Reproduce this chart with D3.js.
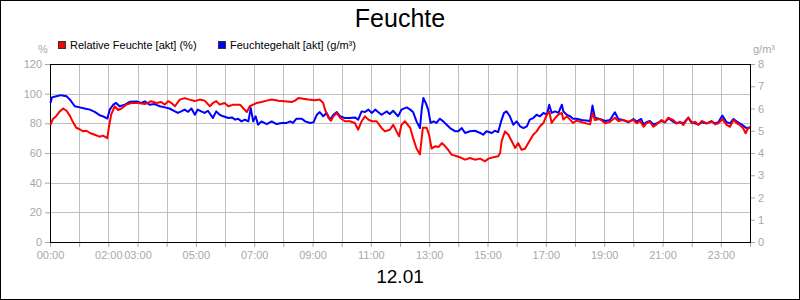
<!DOCTYPE html>
<html>
<head>
<meta charset="utf-8">
<script src="https://cdn.jsdelivr.net/npm/d3@7"></script>
<style>
  body { margin: 0; background: #fff; }
  svg text { font-family: "Liberation Sans", Arial, sans-serif; }
</style>
</head>
<body>
<svg id="chart"></svg>
<script>
// Chart texts
const title = "Feuchte"
const dateLabel = "12.01"
const seriesNames = ["Relative Feuchte [akt] (%)", "Feuchtegehalt [akt] (g/m³)"]
const seriesColors = ["#ff0000", "#0000ff"]
const leftUnit = "%"
const rightUnit = "g/m³"

// Axes
const hourTicks = d3.range(0, 25)            // hourly grid
const hourLabels = ["00:00", "02:00", "03:00", "05:00", "07:00", "09:00", "11:00", "13:00", "15:00", "17:00", "19:00", "21:00", "23:00"]
const leftTicks = [0, 20, 40, 60, 80, 100, 120]
const rightTicks = [0, 1, 2, 3, 4, 5, 6, 7, 8]

// Relative Feuchte: minutes after midnight / percent
const rhMinutes = [1, 6, 13, 20, 27, 34, 41, 47, 54, 61, 68, 75, 82, 92, 102, 109, 118, 121, 126, 133, 140, 147, 157, 167, 181, 195, 208, 219, 229, 236, 243, 250, 257, 267, 277, 287, 298, 308, 318, 329, 335, 342, 349, 359, 367, 377, 391, 398, 405, 411, 418, 425, 435, 446, 456, 470, 483, 497, 504, 511, 521, 531, 545, 555, 562, 566, 573, 578, 583, 590, 597, 607, 617, 627, 634, 641, 648, 655, 662, 672, 682, 689, 699, 706, 713, 718, 723, 730, 741, 747, 754, 761, 767, 775, 780, 785, 792, 799, 806, 813, 819, 826, 837, 847, 854, 864, 874, 885, 895, 902, 912, 922, 926, 929, 936, 943, 950, 957, 963, 970, 977, 984, 994, 1001, 1008, 1015, 1022, 1027, 1032, 1039, 1046, 1053, 1056, 1063, 1070, 1076, 1083, 1094, 1111, 1116, 1121, 1131, 1142, 1152, 1162, 1169, 1179, 1190, 1200, 1207, 1214, 1221, 1227, 1234, 1241, 1248, 1258, 1265, 1272, 1282, 1289, 1296, 1303, 1313, 1320, 1327, 1334, 1341, 1351, 1361, 1368, 1375, 1383, 1392, 1399, 1406, 1413, 1419, 1426, 1431, 1436, 1440]
const rhValues = [79, 83, 85, 88, 90, 88.5, 85, 81, 77, 76, 74.6, 75, 73.5, 72.3, 71, 71.7, 70, 77, 86, 91.5, 89, 90, 92.6, 93.7, 93.7, 93, 94.9, 93.7, 94.4, 92.6, 94.9, 93.7, 91.5, 96, 97, 96, 95, 96, 95.3, 91.5, 93.7, 95, 92.6, 93.7, 91.5, 92.6, 92.6, 90, 87.6, 91.5, 92.6, 93.7, 94.4, 95.3, 96, 95.3, 94.9, 94.4, 95.3, 97, 96.6, 96, 95.5, 96, 93.7, 89, 83.6, 81.8, 84.7, 87, 83.6, 81.4, 81.4, 80.2, 75.7, 81.4, 84.7, 82.5, 81.4, 81.4, 76.9, 74.6, 75.7, 79, 74.6, 71.3, 79, 81.4, 77, 70, 63, 59, 77, 77, 72, 63, 64.5, 64, 66.7, 64.5, 62.2, 58.9, 57.8, 56.6, 55.5, 56.6, 55.5, 56.2, 54.4, 56.2, 57.1, 57.8, 60, 67.9, 74.6, 72.3, 67.9, 63.4, 66.7, 62.2, 62.9, 66.7, 72.3, 74.6, 78, 80.2, 85.8, 88, 80.2, 83.6, 85.8, 87, 82.5, 84.7, 82.5, 80.2, 81.8, 80.7, 79.3, 86.8, 82.2, 82.9, 80, 81.1, 83.8, 81.6, 82.2, 81.1, 82.2, 80, 81.6, 77.7, 80, 81.1, 77.7, 79.3, 82.2, 80.7, 83.8, 82.2, 80, 81.1, 78.9, 83.8, 80, 81.1, 78.9, 81.6, 80, 81.6, 79.3, 80, 82.9, 78.9, 77.7, 82.2, 80, 78.9, 76.7, 73.3, 76.7, 77]

// Feuchtegehalt: minutes after midnight / g per m³
const ahMinutes = [1, 4, 13, 23, 34, 41, 51, 61, 71, 82, 92, 102, 109, 118, 123, 130, 136, 143, 154, 164, 178, 188, 195, 205, 215, 226, 236, 246, 257, 263, 270, 277, 284, 291, 298, 304, 311, 318, 325, 335, 342, 349, 356, 367, 374, 381, 387, 394, 401, 408, 413, 418, 423, 428, 435, 446, 456, 466, 477, 487, 494, 500, 507, 518, 525, 535, 542, 549, 555, 562, 569, 576, 583, 590, 597, 607, 617, 627, 634, 641, 648, 655, 662, 669, 675, 682, 693, 699, 706, 716, 723, 734, 741, 747, 754, 761, 765, 768, 773, 778, 783, 789, 795, 802, 809, 816, 823, 833, 840, 847, 854, 864, 874, 885, 891, 898, 909, 915, 922, 928, 934, 939, 946, 953, 960, 967, 974, 981, 987, 994, 1001, 1008, 1015, 1022, 1027, 1032, 1039, 1046, 1053, 1056, 1063, 1070, 1076, 1083, 1094, 1111, 1116, 1121, 1131, 1142, 1152, 1162, 1169, 1179, 1190, 1200, 1207, 1216, 1221, 1227, 1234, 1241, 1248, 1258, 1265, 1272, 1282, 1289, 1296, 1303, 1313, 1320, 1327, 1334, 1341, 1351, 1361, 1368, 1375, 1383, 1392, 1399, 1406, 1413, 1419, 1426, 1433, 1440]
const ahValues = [6.25, 6.5, 6.55, 6.6, 6.55, 6.4, 6.1, 6.05, 6.0, 5.95, 5.85, 5.7, 5.65, 5.55, 5.95, 6.17, 6.25, 6.1, 6.17, 6.3, 6.32, 6.25, 6.32, 6.17, 6.2, 6.1, 6.05, 6.0, 5.87, 5.8, 5.87, 5.95, 5.85, 6.0, 5.72, 5.95, 5.87, 5.8, 5.9, 5.57, 5.87, 5.72, 5.65, 5.57, 5.6, 5.5, 5.54, 5.42, 5.5, 5.42, 6.02, 5.42, 5.65, 5.27, 5.42, 5.3, 5.42, 5.3, 5.35, 5.35, 5.42, 5.35, 5.54, 5.54, 5.42, 5.35, 5.38, 5.72, 5.84, 5.65, 5.8, 5.5, 5.72, 5.84, 5.65, 5.57, 5.57, 5.6, 5.5, 5.87, 5.84, 5.95, 5.8, 5.95, 5.84, 5.72, 5.87, 5.75, 5.9, 5.65, 5.95, 6.05, 5.95, 5.84, 5.42, 5.12, 6.02, 6.47, 6.25, 5.95, 5.35, 5.42, 5.35, 5.54, 5.42, 5.27, 5.12, 4.98, 4.98, 5.12, 4.9, 4.98, 5.0, 4.9, 4.82, 4.98, 4.9, 5.0, 4.94, 5.42, 5.8, 5.87, 5.65, 5.27, 5.42, 5.2, 5.12, 5.2, 5.5, 5.57, 5.72, 5.65, 5.8, 5.72, 6.17, 5.8, 5.87, 5.8, 6.17, 5.87, 5.72, 5.65, 5.54, 5.54, 5.48, 5.44, 6.13, 5.59, 5.53, 5.44, 5.48, 5.83, 5.53, 5.48, 5.38, 5.53, 5.41, 5.53, 5.29, 5.38, 5.44, 5.29, 5.33, 5.44, 5.38, 5.56, 5.41, 5.33, 5.38, 5.33, 5.59, 5.38, 5.33, 5.29, 5.38, 5.33, 5.41, 5.33, 5.38, 5.68, 5.38, 5.33, 5.53, 5.41, 5.33, 5.23, 5.11, 5.16]

const W = 800, H = 300
const margin = {left: 50, top: 64, right: 50, bottom: 58}
const w = W - margin.left - margin.right
const h = H - margin.top - margin.bottom
const grey = "#a8a8a8"
const gridGrey = "#c0c0c0"

const svg = d3.select("#chart").attr("width", W).attr("height", H)

// outer frame
svg.append("rect").attr("x", 0.5).attr("y", 0.5).attr("width", W - 1).attr("height", H - 1)
  .attr("fill", "#fff").attr("stroke", "#000")

const xScale = d3.scaleLinear().domain([0, 24 * 60]).range([0, w])
const yLeft = d3.scaleLinear().domain([0, 120]).range([h, 0])
const yRight = d3.scaleLinear().domain([0, 8]).range([h, 0])
const snap = v => Math.round(v) + 0.5

const g = svg.append("g").attr("transform", `translate(${margin.left},${margin.top})`)

// grid
g.selectAll(".vgrid").data(hourTicks).join("line").attr("class", "vgrid")
  .attr("x1", d => snap(xScale(d * 60))).attr("x2", d => snap(xScale(d * 60)))
  .attr("y1", 0).attr("y2", h).attr("stroke", gridGrey)
g.selectAll(".hgrid").data(leftTicks).join("line").attr("class", "hgrid")
  .attr("x1", 0).attr("x2", w)
  .attr("y1", d => snap(yLeft(d))).attr("y2", d => snap(yLeft(d))).attr("stroke", gridGrey)

// axes
const styleAxis = sel => {
  sel.select(".domain").remove()
  sel.selectAll(".tick line").attr("stroke", grey)
  sel.selectAll(".tick text").attr("fill", grey).attr("font-size", 11)
    .attr("font-family", '"Liberation Sans", Arial, sans-serif')
}

g.append("g").attr("transform", `translate(0,${h})`)
  .call(d3.axisBottom(xScale).tickValues(hourTicks.map(d => d * 60)).tickSize(5).tickPadding(4)
    .tickFormat(d => {
      const s = d3.format("02")(Math.floor(d / 60)) + ":00"
      return hourLabels.includes(s) && d < 1440 ? s : ""
    }))
  .call(styleAxis)

g.append("g")
  .call(d3.axisLeft(yLeft).tickValues(leftTicks).tickSize(5).tickPadding(3))
  .call(styleAxis)

g.append("g").attr("transform", `translate(${w},0)`)
  .call(d3.axisRight(yRight).tickValues(rightTicks).tickSize(5).tickPadding(3))
  .call(styleAxis)

// plot frame
g.append("rect").attr("x", 0.5).attr("y", 0.5).attr("width", w).attr("height", h)
  .attr("fill", "none").attr("stroke", "#000")

// lines
const rhData = rhMinutes.map((m, i) => ({m, v: rhValues[i]}))
const ahData = ahMinutes.map((m, i) => ({m, v: ahValues[i]}))

g.append("path").datum(ahData)
  .attr("d", d3.line().x(d => xScale(d.m)).y(d => yRight(d.v)))
  .attr("fill", "none").attr("stroke", seriesColors[1]).attr("stroke-width", 2)
  .attr("stroke-linejoin", "round")
g.append("path").datum(rhData)
  .attr("d", d3.line().x(d => xScale(d.m)).y(d => yLeft(d.v)))
  .attr("fill", "none").attr("stroke", seriesColors[0]).attr("stroke-width", 2)
  .attr("stroke-linejoin", "round")

// titles
svg.append("text").attr("x", W / 2).attr("y", 27).attr("text-anchor", "middle")
  .attr("font-size", 25).attr("fill", "#000").text(title)
svg.append("text").attr("x", W / 2).attr("y", 283).attr("text-anchor", "middle")
  .attr("font-size", 19).attr("fill", "#000").text(dateLabel)

// units
svg.append("text").attr("x", 43).attr("y", 53).attr("text-anchor", "middle")
  .attr("font-size", 11).attr("fill", grey).text(leftUnit)
svg.append("text").attr("x", 753).attr("y", 53)
  .attr("font-size", 11).attr("fill", grey).text(rightUnit)

// legend
const legendX = [58, 218]
const legend = svg.selectAll(".legend").data(seriesNames).join("g").attr("class", "legend")
  .attr("transform", (d, i) => `translate(${legendX[i]},41)`)
legend.append("rect").attr("x", 0.5).attr("y", 0.5).attr("width", 7).attr("height", 7)
  .attr("fill", (d, i) => seriesColors[i]).attr("stroke", "#333")
legend.append("text").attr("x", 12).attr("y", 7.5).attr("font-size", 11).attr("fill", "#000")
  .text(d => d)
</script>
</body>
</html>
